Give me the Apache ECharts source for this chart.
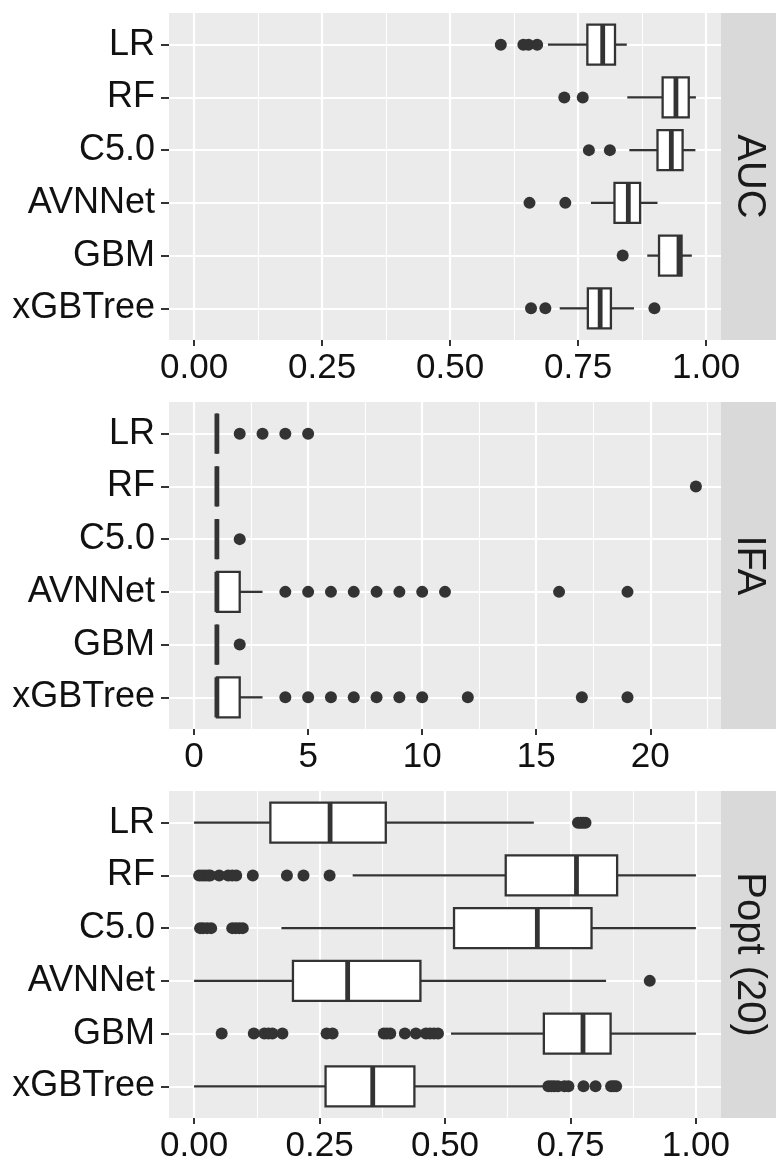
<!DOCTYPE html>
<html>
<head>
<meta charset="utf-8">
<script src="https://cdn.jsdelivr.net/npm/echarts@6/dist/echarts.min.js"></script>
<style>
  html, body { margin: 0; padding: 0; background: #ffffff; }
  #chart { width: 776px; height: 1160px; }
</style>
</head>
<body>
<div id="chart"></div>
<script>
// models, top to bottom
const categories = ['LR', 'RF', 'C5.0', 'AVNNet', 'GBM', 'xGBTree']
const panelNames = ['AUC', 'IFA', 'Popt (20)']

// boxes: [lower whisker, Q1, median, Q3, upper whisker]
const aucBoxes = [
    [0.691, 0.768, 0.798, 0.822, 0.845],
    [0.846, 0.915, 0.941, 0.966, 0.980],
    [0.850, 0.905, 0.932, 0.954, 0.979],
    [0.775, 0.821, 0.848, 0.871, 0.905],
    [0.885, 0.908, 0.947, 0.952, 0.972],
    [0.714, 0.769, 0.793, 0.814, 0.859]
]
const aucOutliers = [
    [0.599, 0.643, 0.653, 0.670],
    [0.723, 0.759],
    [0.771, 0.812],
    [0.655, 0.725],
    [0.837],
    [0.658, 0.686, 0.899]
]

const ifaBoxes = [
    [1, 1, 1, 1, 1],
    [1, 1, 1, 1, 1],
    [1, 1, 1, 1, 1],
    [1, 1, 1, 2, 3],
    [1, 1, 1, 1, 1],
    [1, 1, 1, 2, 3]
]
const ifaOutliers = [
    [2, 3, 4, 5],
    [22],
    [2],
    [4, 5, 6, 7, 8, 9, 10, 11, 16, 19],
    [2],
    [4, 5, 6, 7, 8, 9, 10, 12, 17, 19]
]

const poptBoxes = [
    [0.0, 0.152, 0.271, 0.382, 0.677],
    [0.316, 0.621, 0.762, 0.843, 1.0],
    [0.174, 0.518, 0.684, 0.792, 1.0],
    [0.0, 0.197, 0.306, 0.451, 0.821],
    [0.512, 0.697, 0.775, 0.830, 1.0],
    [0.0, 0.262, 0.356, 0.439, 0.703]
]
const poptOutliers = [
    [0.765, 0.770, 0.775, 0.780],
    [0.010, 0.016, 0.022, 0.028, 0.032, 0.050, 0.068, 0.076, 0.084, 0.117, 0.185, 0.218, 0.270],
    [0.012, 0.018, 0.026, 0.034, 0.076, 0.083, 0.090, 0.097],
    [0.908],
    [0.055, 0.119, 0.140, 0.148, 0.156, 0.176, 0.264, 0.276, 0.378, 0.384, 0.391, 0.420, 0.442, 0.462, 0.470, 0.478, 0.486],
    [0.706, 0.712, 0.718, 0.725, 0.738, 0.746, 0.776, 0.800, 0.831, 0.836, 0.841]
]

const unitTicks = [0, 0.25, 0.5, 0.75, 1]
const unitMinorTicks = [0.125, 0.375, 0.625, 0.875]
const ifaTicks = [0, 5, 10, 15, 20]
const ifaMinorTicks = [2.5, 7.5, 12.5, 17.5, 22.5]

const panels = [
    { boxes: aucBoxes, outliers: aucOutliers, ticks: unitTicks, minor: unitMinorTicks, digits: 2 },
    { boxes: ifaBoxes, outliers: ifaOutliers, ticks: ifaTicks, minor: ifaMinorTicks, digits: 0 },
    { boxes: poptBoxes, outliers: poptOutliers, ticks: unitTicks, minor: unitMinorTicks, digits: 2 }
]

const panelTops = [13, 402, 791]
const panelHeight = 327
const boxWidth = 0.76
const ink = '#333333'
const textColor = '#111111'
const font = '"Liberation Sans", Arial, Helvetica, sans-serif'

// ggplot style limits: range from 0 to data max, padded by 5%
function limitsOf(panel) {
    let hi = 0
    panel.boxes.forEach(b => { hi = Math.max(hi, ...b) })
    panel.outliers.forEach(o => { if (o.length) hi = Math.max(hi, ...o) })
    const pad = hi * 0.05
    return [-pad, hi + pad]
}

function renderBox(params, api) {
    const c = api.value(0)
    const lo = api.coord([api.value(1), c])
    const q1 = api.coord([api.value(2), c])
    const md = api.coord([api.value(3), c])
    const q3 = api.coord([api.value(4), c])
    const hi = api.coord([api.value(5), c])
    const h = api.size([0, boxWidth])[1]
    const y = q1[1]
    const line = { stroke: ink, lineWidth: 2.3 }

    return {
        type: 'group',
        children: [
            { type: 'line', shape: { x1: lo[0], y1: y, x2: q1[0], y2: y }, style: line },
            { type: 'line', shape: { x1: q3[0], y1: y, x2: hi[0], y2: y }, style: line },
            {
                type: 'rect',
                shape: { x: q1[0], y: y - h / 2, width: q3[0] - q1[0], height: h },
                style: { fill: '#ffffff', stroke: ink, lineWidth: 2.3 }
            },
            {
                type: 'line',
                shape: { x1: md[0], y1: y - h / 2, x2: md[0], y2: y + h / 2 },
                style: { stroke: ink, lineWidth: 4.8 }
            }
        ]
    }
}

const grid = []
const xAxis = []
const yAxis = []
const series = []
const graphic = []

panels.forEach((panel, g) => {
    const [min, max] = limitsOf(panel)

    grid.push({
        left: 169,
        right: 55,
        top: panelTops[g],
        height: panelHeight,
        show: true,
        backgroundColor: '#EBEBEB',
        borderWidth: 0,
        containLabel: false,
        outerBoundsMode: 'none'
    })

    // major axis with labels
    xAxis.push({
        type: 'value',
        gridIndex: g,
        position: 'bottom',
        min: min,
        max: max,
        axisLine: { show: false, onZero: false },
        axisTick: {
            show: true,
            length: 6,
            customValues: panel.ticks,
            lineStyle: { color: ink, width: 2 }
        },
        axisLabel: {
            customValues: panel.ticks,
            formatter: v => Number(v).toFixed(panel.digits),
            color: textColor,
            fontSize: 35,
            fontFamily: font,
            margin: 11
        },
        splitLine: { show: true, lineStyle: { color: '#ffffff', width: 2.2 } }
    })

    // minor grid lines only
    xAxis.push({
        type: 'value',
        gridIndex: g,
        position: 'top',
        min: min,
        max: max,
        axisLine: { show: false, onZero: false },
        axisTick: { show: false, customValues: panel.minor },
        axisLabel: { show: false, customValues: panel.minor },
        splitLine: { show: true, lineStyle: { color: '#ffffff', width: 1.1 } }
    })

    yAxis.push({
        type: 'value',
        gridIndex: g,
        position: 'left',
        inverse: true,
        min: 0.4,
        max: categories.length + 0.6,
        axisLine: { show: false, onZero: false },
        axisTick: {
            show: true,
            length: 8,
            customValues: categories.map((c, i) => i + 1),
            lineStyle: { color: ink, width: 2 }
        },
        axisLabel: {
            customValues: categories.map((c, i) => i + 1),
            formatter: v => categories[Math.round(v) - 1],
            color: textColor,
            fontSize: 36,
            fontFamily: font,
            margin: 14
        },
        splitLine: { show: true, lineStyle: { color: '#ffffff', width: 2.2 } }
    })

    series.push({
        type: 'custom',
        name: panelNames[g] + ' boxes',
        xAxisIndex: g * 2,
        yAxisIndex: g,
        encode: { x: [1, 2, 3, 4, 5], y: 0 },
        data: panel.boxes.map((b, i) => [i + 1, ...b]),
        renderItem: renderBox,
        silent: true
    })

    series.push({
        type: 'scatter',
        name: panelNames[g] + ' outliers',
        xAxisIndex: g * 2,
        yAxisIndex: g,
        symbol: 'circle',
        symbolSize: 12,
        itemStyle: { color: ink, opacity: 1 },
        data: panel.outliers.flatMap((o, i) => o.map(v => [v, i + 1])),
        silent: true
    })

    // facet strip on the right
    graphic.push({
        type: 'rect',
        shape: { x: 721, y: panelTops[g], width: 55, height: panelHeight },
        style: { fill: '#D9D9D9' },
        silent: true
    })
    graphic.push({
        type: 'text',
        x: 749,
        y: panelTops[g] + panelHeight / 2,
        rotation: -Math.PI / 2,
        style: {
            text: panelNames[g],
            fill: '#1A1A1A',
            fontSize: 40,
            fontFamily: font,
            align: 'center',
            verticalAlign: 'middle'
        },
        silent: true
    })
})

const chart = echarts.init(document.getElementById('chart'))
chart.setOption({
    animation: false,
    backgroundColor: '#ffffff',
    grid: grid,
    xAxis: xAxis,
    yAxis: yAxis,
    series: series,
    graphic: graphic
})
</script>
</body>
</html>
